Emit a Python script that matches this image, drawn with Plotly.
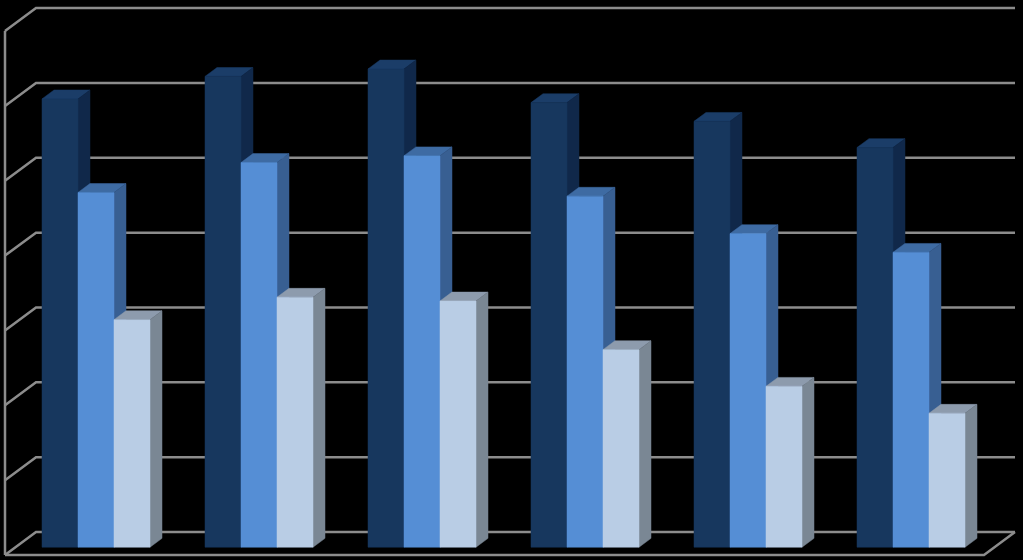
import plotly.graph_objects as go

categories = ["1", "2", "3", "4", "5", "6"]
series_a = [59.9, 62.9, 63.9, 59.4, 56.9, 53.4]
series_b = [47.4, 51.4, 52.3, 46.9, 41.9, 39.4]
series_c = [30.4, 33.4, 32.9, 26.4, 21.5, 17.9]
grid_values = [0, 10, 20, 30, 40, 50, 60, 70]

W, H = 1023, 560
UNIT = 7.485     # px per value unit
BASE = 555.0     # px of value 0 at front of chart
SLOPE = 0.74     # vertical px per horizontal px of depth
LEFT = 5.0
RIGHT = 984.0
WALL = 31.0
BAR_FRONT = 10.5
BAR_DEPTH = 12.0
GROUP_START = 42.0 - LEFT - BAR_FRONT
GROUP_STEP = 163.0
BAR_W = 36.0
GRID = "#8c8c8c"

styles = [
    ("#17375e", "#10284a", "#1b3d68"),
    ("#558ed5", "#385f92", "#3e6ba3"),
    ("#b9cde5", "#7a8794", "#8d9bad"),
]


def px(x, depth=0.0):
    return LEFT + x + depth


def val(v, depth=0.0):
    return v + SLOPE * depth / UNIT


fig = go.Figure()


def poly(xs, ys, color):
    fig.add_trace(go.Scatter(x=xs, y=ys, mode="lines", fill="toself", fillcolor=color,
                             line=dict(width=0.5, color=color), hoverinfo="skip", showlegend=False))


def line(xs, ys, width=2.5):
    fig.add_trace(go.Scatter(x=xs, y=ys, mode="lines", line=dict(color=GRID, width=width),
                             hoverinfo="skip", showlegend=False))


span = RIGHT - LEFT
for g in grid_values:
    line([px(0), px(0, WALL), px(span, WALL)], [val(g), val(g, WALL), val(g, WALL)])
top = grid_values[-1]
line([px(0), px(0)], [val(0), val(top)])
line([px(0), px(span), px(span, WALL)], [val(0), val(0), val(0, WALL)])

for i in range(len(categories)):
    x0 = GROUP_START + i * GROUP_STEP
    for s, values in enumerate([series_a, series_b, series_c]):
        v = values[i]
        front, side, roof = styles[s]
        l = x0 + s * BAR_W
        r = l + BAR_W
        d0, d1 = BAR_FRONT, BAR_FRONT + BAR_DEPTH
        poly([px(l, d0), px(l, d1), px(r, d1), px(r, d0), px(l, d0)],
             [val(v, d0), val(v, d1), val(v, d1), val(v, d0), val(v, d0)], roof)
        poly([px(r, d0), px(r, d1), px(r, d1), px(r, d0), px(r, d0)],
             [val(0, d0), val(0, d1), val(v, d1), val(v, d0), val(0, d0)], side)
        poly([px(l, d0), px(r, d0), px(r, d0), px(l, d0), px(l, d0)],
             [val(0, d0), val(0, d0), val(v, d0), val(v, d0), val(0, d0)], front)

fig.update_layout(
    width=W, height=H, autosize=False,
    margin=dict(l=0, r=0, t=0, b=0),
    paper_bgcolor="black", plot_bgcolor="black",
    showlegend=False,
    xaxis=dict(visible=False, range=[0, W], fixedrange=True),
    yaxis=dict(visible=False, range=[(BASE - H) / UNIT, BASE / UNIT], fixedrange=True),
)
fig.write_html("out.html", config={"displayModeBar": False},
               post_script="document.body.style.margin='0';document.body.style.background='black';")
